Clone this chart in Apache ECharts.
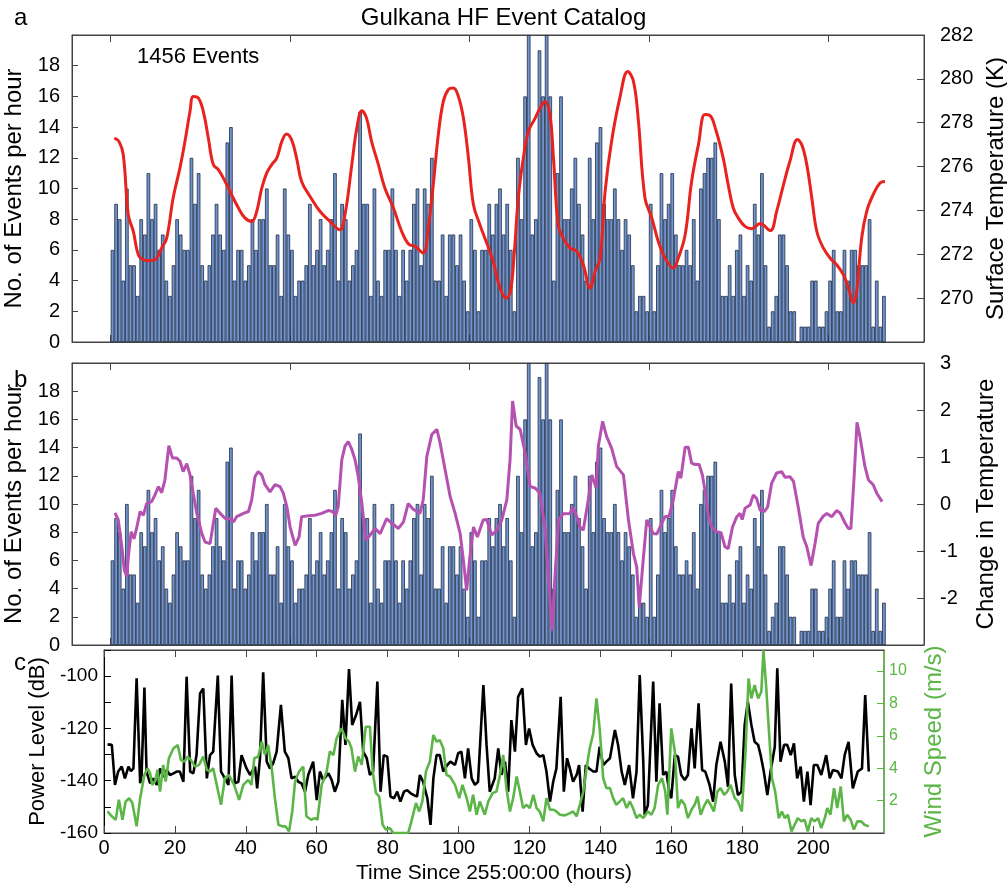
<!DOCTYPE html>
<html>
<head>
<meta charset="utf-8">
<title>Gulkana HF Event Catalog</title>
<script src="https://cdn.jsdelivr.net/npm/echarts@6/dist/echarts.min.js"></script>
<style>
html, body { margin: 0; padding: 0; background: #fff; }
#main { width: 1007px; height: 888px; }
</style>
</head>
<body>
<div id="main"></div>
<script>
// events per hour, one value per hourly bin (shared by panels a and b)
var eventCounts = [
    6, 9, 8, 4, 10, 5, 5, 3, 8, 7, 11, 8, 9, 6, 7, 4, 3, 5, 8, 7,
    6, 6, 12, 9, 11, 5, 4, 5, 7, 9, 7, 6, 13, 14, 4, 6, 6, 4, 5, 8,
    6, 8, 8, 10, 5, 5, 7, 3, 10, 7, 6, 3, 4, 4, 5, 9, 5, 6, 8, 5,
    6, 8, 11, 4, 9, 8, 4, 5, 6, 15, 9, 9, 3, 10, 4, 3, 6, 6, 10, 6,
    3, 6, 4, 6, 9, 10, 5, 10, 9, 12, 4, 4, 7, 3, 7, 7, 5, 7, 4, 2,
    8, 6, 2, 6, 6, 9, 7, 9, 10, 7, 9, 6, 2, 12, 8, 16, 20, 7, 8, 19,
    16, 20, 16, 4, 11, 16, 8, 8, 10, 12, 9, 7, 4, 12, 8, 13, 14, 9, 8, 8,
    10, 8, 6, 8, 7, 5, 2, 3, 3, 2, 9, 2, 5, 11, 8, 9, 11, 7, 5, 5,
    6, 5, 8, 4, 10, 11, 12, 12, 13, 8, 3, 3, 5, 3, 6, 7, 3, 5, 4, 9,
    7, 11, 5, 1, 2, 3, 7, 7, 5, 2, 2, 0, 1, 1, 1, 4, 4, 1, 1, 2,
    4, 6, 2, 2, 6, 4, 6, 6, 5, 5, 5, 8, 1, 4, 1, 3
];

// surface temperature (K), hours counted from the first bin
var tempHour = [
    1.0, 2.3, 3.5, 4.9, 6.3, 7.7, 9.1, 10.5, 12.3, 14.2, 15.6, 17.4, 19.3, 20.7, 22.1, 23.0,
    24.4, 25.8, 27.2, 28.6, 30.0, 31.9, 33.7, 35.6, 37.4, 39.3, 40.7, 42.1, 43.5, 44.9, 46.3,
    47.7, 49.0, 50.4, 51.8, 53.2, 55.5, 58.3, 61.1, 63.9, 65.3, 67.2, 68.6, 70.0, 71.3, 72.7,
    74.6, 76.4, 78.8, 81.1, 83.0, 84.8, 87.1, 88.5, 89.9, 91.3, 92.7, 94.1, 95.5, 96.9, 98.3,
    99.7, 101.1, 102.9, 104.8, 106.6, 108.5, 110.2, 111.4, 112.4, 113.6, 115.0, 116.4, 118.3,
    119.7, 121.0, 122.4, 123.4, 124.7, 126.1, 128.0, 129.9, 131.7, 133.6, 135.0, 136.4, 137.8,
    139.6, 141.9, 144.1, 145.7, 147.0, 148.9, 150.8, 152.6, 154.5, 156.8, 158.2, 160.1, 161.9,
    163.8, 165.6, 167.0, 168.6, 170.7, 172.1, 173.5, 174.9, 176.8, 178.7, 181.0, 183.8, 185.6,
    187.5, 189.3, 191.4, 192.6, 194.0, 195.4, 196.8, 198.6, 200.5, 202.3, 204.2, 205.6, 207.0,
    207.9, 209.3, 210.7, 212.5, 214.4, 215.8
];
var tempK = [
    277.3, 277.15, 276.54, 273.81, 273.04, 271.98, 271.75, 271.71, 271.75, 272.29, 272.74, 274.57,
    275.94, 277.15, 278.52, 279.2, 279.13, 278.52, 277.3, 276.09, 275.86, 275.32, 274.72, 274.11,
    273.66, 273.5, 273.96, 275.02, 275.71, 276.09, 276.39, 277.15, 277.49, 277.23, 276.39, 275.32,
    274.65, 273.96, 273.5, 273.12, 273.81, 276.09, 277.76, 278.55, 278.21, 277.15, 276.09, 275.02,
    274.11, 273.04, 272.47, 272.36, 272.06, 273.2, 275.17, 277.45, 278.97, 279.51, 279.58, 279.2,
    278.21, 276.39, 274.26, 273.35, 272.51, 271.68, 270.46, 270.0, 270.3, 271.9, 274.57, 276.39,
    277.6, 278.21, 278.67, 278.97, 278.37, 276.39, 273.35, 272.74, 272.29, 272.13, 271.53, 270.46,
    271.22, 271.83, 274.87, 277.15, 279.13, 280.34, 279.88, 278.21, 274.57, 273.66, 272.59, 271.83,
    271.37, 271.83, 272.89, 275.32, 277.0, 278.37, 278.33, 277.7, 276.39, 275.17, 274.11, 273.66,
    273.27, 273.17, 273.4, 273.08, 273.96, 275.17, 276.24, 277.23, 277.0, 276.09, 274.57, 273.04,
    272.29, 271.83, 271.53, 271.07, 270.46, 269.78, 270.31, 272.74, 273.96, 274.72, 275.25, 275.32
];

// change in temperature
var dTempHour = [
    1.2, 2.1, 3.1, 3.8, 4.5, 4.9, 5.7, 6.5, 7.2, 8.2, 9.1, 10.0, 11.4, 12.3, 13.3, 14.2, 15.1,
    16.2, 17.2, 18.4, 19.3, 20.2, 21.2, 22.1, 23.0, 24.0, 25.4, 26.3, 27.7, 28.6, 29.3, 30.5,
    31.9, 33.2, 34.2, 35.1, 37.0, 38.4, 39.3, 40.2, 41.1, 42.1, 43.0, 44.4, 45.8, 47.2, 48.1,
    49.1, 50.0, 51.4, 52.5, 53.2, 55.1, 56.9, 58.8, 60.6, 61.8, 62.7, 63.4, 64.4, 65.3, 66.2,
    67.2, 68.1, 69.0, 70.0, 71.1, 72.3, 73.7, 75.1, 76.9, 78.3, 80.2, 81.6, 82.9, 84.3, 86.2,
    87.1, 88.1, 89.5, 90.9, 91.8, 93.2, 94.6, 96.0, 97.4, 98.3, 99.2, 100.1, 101.1, 102.2,
    103.8, 104.8, 106.2, 107.6, 109.0, 110.4, 111.3, 112.0, 113.0, 114.1, 115.5, 116.9, 118.3,
    119.6, 121.0, 122.0, 123.0, 123.8, 124.8, 126.1, 128.0, 128.9, 129.9, 130.8, 131.7, 133.1,
    134.1, 135.3, 135.9, 137.1, 138.2, 139.6, 141.0, 142.9, 144.3, 145.7, 146.6, 147.3, 148.4,
    149.4, 151.2, 152.2, 153.1, 154.5, 155.6, 156.8, 158.2, 158.9, 160.1, 161.0, 161.9, 162.9,
    164.0, 164.9, 165.6, 166.6, 167.5, 168.9, 170.1, 171.2, 172.1, 173.3, 174.5, 175.4, 176.0,
    176.8, 178.2, 179.1, 180.0, 181.0, 182.2, 183.1, 184.2, 185.6, 187.0, 187.9, 189.3, 190.3,
    191.6, 193.0, 194.0, 195.2, 196.3, 197.2, 198.6, 199.6, 201.0, 202.3, 203.3, 204.7, 205.6,
    206.3, 207.2, 208.0, 208.8, 210.2, 211.2, 212.5, 213.5, 215.0
];
var dTemp = [
    -0.19, -0.34, -0.91, -1.41, -1.54, -1.13, -0.59, -0.74, -0.52, -0.16, -0.24, 0.01, 0.05, 0.19,
    0.37, 0.24, 0.51, 1.24, 0.98, 0.98, 0.91, 0.69, 0.86, 0.62, 0.23, -0.2, -0.63, -0.81, -0.84,
    -0.41, -0.09, -0.2, -0.31, -0.31, -0.38, -0.27, -0.2, -0.16, 0.09, 0.58, 0.69, 0.62, 0.41,
    0.26, 0.41, 0.37, 0.23, -0.06, -0.49, -0.88, -0.7, -0.27, -0.25, -0.24, -0.2, -0.14, -0.16,
    -0.24, -0.06, 0.94, 1.23, 1.33, 1.16, 0.94, 0.58, 0.01, -0.77, -0.66, -0.52, -0.63, -0.31,
    -0.41, -0.52, -0.38, 0.01, -0.11, -0.2, 0.09, 1.01, 1.48, 1.59, 1.3, 0.73, 0.16, -0.2, -0.63,
    -1.2, -1.84, -1.13, -0.49, -0.7, -0.34, -0.33, -0.66, -0.56, -0.34, 0.09, 0.94, 2.19, 1.66,
    1.59, 1.09, 0.37, 0.34, 0.23, -0.49, -1.56, -2.7, -1.56, -0.34, -0.21, -0.2, -0.07, -0.27,
    -0.49, -0.56, 0.09, 0.62, 0.34, 1.23, 1.76, 1.44, 1.19, 0.8, 0.62, -0.34, -1.06, -1.34, -2.2,
    -1.2, -0.34, -0.63, -0.64, -0.49, -0.27, -0.26, 0.09, 0.69, 0.55, 1.21, 1.21, 0.87, 0.84,
    0.84, 0.62, 0.3, -0.27, -0.49, -0.59, -0.61, -0.91, -0.95, -0.49, -0.27, -0.2, -0.33, -0.09,
    -0.02, 0.19, 0.12, -0.13, -0.16, -0.06, 0.44, 0.66, 0.69, 0.57, 0.58, 0.48, -0.06, -0.7,
    -0.91, -1.31, -0.84, -0.41, -0.26, -0.2, -0.27, -0.14, -0.19, -0.41, -0.52, -0.52, 0.58,
    1.74, 1.44, 0.8, 0.51, 0.41, 0.23, 0.05
];

// power level (dB), time since 255:00:00 in hours
var powerTime = [
    1.0, 2.2, 3.1, 4.0, 5.0, 5.9, 6.9, 7.6, 8.3, 9.2, 10.2, 10.6, 11.4, 12.0, 13.0, 13.9, 14.9,
    15.8, 16.7, 17.7, 18.6, 19.6, 20.5, 21.4, 22.4, 23.3, 24.3, 25.2, 26.1, 27.1, 28.0, 29.0,
    29.9, 30.8, 32.1, 33.0, 34.1, 35.1, 36.0, 36.9, 37.9, 38.8, 40.2, 41.2, 42.6, 43.2, 44.0,
    44.9, 45.9, 46.8, 47.7, 48.7, 49.9, 51.0, 52.0, 52.9, 53.9, 54.8, 55.7, 56.7, 57.6, 59.0,
    60.0, 60.9, 61.8, 63.3, 64.2, 65.1, 66.1, 67.2, 68.1, 69.1, 70.0, 71.1, 72.2, 73.1, 74.1,
    75.0, 75.9, 77.1, 78.0, 78.9, 79.9, 80.8, 81.8, 82.7, 83.6, 84.6, 85.5, 86.5, 87.4, 88.3,
    89.1, 90.0, 91.2, 92.1, 92.9, 93.8, 94.7, 95.7, 96.8, 97.7, 99.0, 99.9, 100.8, 101.8, 102.7,
    103.7, 104.6, 105.5, 107.0, 107.9, 108.8, 110.2, 111.2, 112.1, 113.1, 114.0, 114.9, 115.9,
    116.8, 118.0, 119.0, 119.9, 120.9, 122.0, 122.9, 123.9, 124.8, 125.8, 126.7, 127.6, 128.8,
    129.7, 130.6, 131.4, 132.3, 133.3, 134.0, 135.0, 135.9, 136.8, 138.0, 138.9, 139.8, 140.8,
    141.7, 142.7, 144.1, 145.0, 146.0, 146.9, 148.1, 149.2, 150.2, 151.1, 152.1, 152.5, 153.4,
    154.9, 155.8, 156.7, 157.7, 158.6, 159.5, 160.0, 161.0, 161.9, 162.8, 163.8, 164.7, 165.7,
    166.6, 167.7, 168.7, 169.6, 170.8, 171.8, 172.7, 173.9, 175.1, 176.0, 176.9, 177.9, 178.8,
    179.8, 180.7, 181.6, 182.6, 183.5, 184.5, 185.2, 186.1, 187.1, 188.0, 189.2, 189.9, 190.8,
    191.8, 192.7, 193.7, 194.6, 195.5, 196.5, 197.4, 198.4, 199.3, 200.2, 201.2, 202.3, 203.7,
    204.7, 205.6, 207.0, 208.0, 208.9, 210.0, 211.2, 212.6, 213.8, 214.7, 215.7
];
var powerDb = [
    -126.1, -126.3, -141.6, -136.5, -134.6, -139.1, -134.6, -136.3, -135.3, -100.8, -141.0,
    -137.8, -104.4, -136.5, -141.0, -139.1, -141.6, -135.3, -138.5, -135.9, -137.8, -137.2,
    -136.5, -136.5, -140.4, -100.2, -136.5, -137.2, -130.2, -106.6, -104.7, -139.1, -130.2,
    -128.9, -99.8, -136.5, -139.1, -141.6, -99.8, -141.0, -140.4, -130.2, -135.3, -137.8,
    -134.6, -142.9, -131.4, -98.5, -132.7, -135.3, -133.4, -128.9, -111.0, -128.9, -131.4,
    -139.1, -138.5, -140.4, -141.0, -144.2, -137.8, -132.7, -147.4, -136.5, -139.7, -137.2,
    -139.7, -144.2, -140.4, -109.1, -126.3, -97.3, -118.7, -114.9, -109.8, -128.9, -131.4,
    -137.8, -136.5, -102.1, -144.2, -130.2, -130.8, -146.1, -146.7, -144.2, -148.0, -144.2,
    -143.6, -144.8, -145.5, -146.1, -137.8, -140.4, -146.7, -156.9, -139.1, -130.2, -130.2,
    -136.5, -134.0, -132.7, -134.0, -129.5, -128.9, -139.1, -127.6, -139.1, -141.6, -140.4,
    -103.4, -126.3, -144.2, -139.1, -127.6, -137.8, -132.7, -144.2, -116.8, -128.9, -107.9,
    -104.7, -126.3, -120.0, -126.3, -129.5, -130.8, -130.2, -136.5, -148.0, -140.4, -135.3,
    -107.9, -144.2, -131.4, -135.3, -140.4, -137.8, -134.0, -151.8, -134.0, -135.3, -136.5,
    -136.5, -127.0, -134.0, -132.7, -131.4, -120.6, -126.3, -136.5, -141.6, -134.0, -146.7,
    -136.5, -99.6, -132.7, -153.1, -149.3, -102.1, -140.4, -110.4, -137.8, -136.5, -144.8,
    -146.7, -130.2, -130.8, -137.8, -139.7, -137.8, -120.0, -135.3, -110.4, -135.9, -136.5,
    -141.6, -148.0, -134.0, -125.1, -132.7, -142.3, -102.8, -137.8, -145.5, -144.2, -118.7,
    -109.8, -118.7, -125.1, -126.3, -130.2, -136.5, -145.5, -136.5, -127.0, -97.0, -132.7,
    -126.3, -126.3, -130.2, -125.7, -139.1, -134.6, -148.0, -136.5, -149.3, -134.0, -134.0,
    -137.8, -130.2, -139.1, -135.9, -136.5, -139.1, -130.2, -125.1, -142.9, -136.5, -135.3,
    -107.2, -136.5
];

// wind speed (m/s)
var windTime = [
    1.0, 2.2, 3.3, 4.2, 5.2, 6.1, 7.1, 8.0, 9.2, 10.2, 11.4, 12.3, 13.0, 13.6, 14.4, 15.1, 15.8,
    16.7, 17.4, 18.3, 19.6, 20.8, 21.7, 22.7, 23.6, 24.5, 25.7, 26.8, 28.0, 29.0, 29.9, 30.8,
    31.8, 33.0, 34.1, 35.2, 36.7, 38.1, 39.3, 40.7, 41.6, 42.4, 43.5, 44.5, 45.4, 46.3, 47.3,
    48.2, 49.2, 50.3, 51.2, 52.2, 53.1, 53.9, 55.0, 56.2, 57.1, 58.4, 59.5, 60.2, 61.4, 62.8,
    63.7, 64.7, 65.6, 67.0, 68.1, 69.1, 69.8, 70.8, 71.7, 72.7, 73.8, 75.0, 75.8, 76.7, 77.6,
    78.6, 79.5, 80.6, 81.6, 83.0, 84.4, 85.8, 86.7, 88.0, 88.9, 89.8, 90.8, 91.9, 92.9, 93.8,
    94.7, 95.7, 96.6, 97.6, 99.0, 100.2, 101.1, 102.3, 103.2, 104.1, 105.1, 106.0, 107.4, 108.4,
    109.6, 110.7, 111.7, 112.6, 113.5, 114.5, 115.4, 116.4, 117.3, 118.2, 119.2, 120.1, 121.1,
    122.0, 122.9, 123.9, 124.8, 125.8, 126.7, 127.6, 128.6, 130.0, 131.4, 132.3, 133.3, 134.2,
    135.2, 136.1, 137.0, 138.0, 138.9, 139.8, 140.8, 141.7, 142.7, 143.6, 144.5, 145.5, 146.4,
    147.4, 148.3, 149.2, 150.2, 151.1, 152.1, 152.5, 153.4, 154.4, 155.3, 156.3, 157.4, 158.3,
    158.9, 160.0, 161.0, 161.9, 162.8, 163.8, 164.7, 165.7, 166.6, 167.4, 168.3, 169.2, 170.2,
    171.1, 172.0, 173.0, 173.9, 174.9, 175.8, 176.7, 177.9, 178.8, 179.9, 180.9, 181.8, 182.6,
    183.5, 184.5, 185.4, 186.0, 186.8, 187.5, 188.4, 189.3, 190.3, 191.2, 192.0, 192.9, 193.9,
    194.8, 195.7, 196.7, 197.6, 198.5, 199.5, 200.4, 201.4, 202.3, 203.3, 204.0, 204.9, 205.9,
    206.8, 207.8, 208.7, 209.6, 210.6, 211.5, 212.5, 213.6, 214.5, 215.7
];
var windSpeed = [
    1.33, 1.03, 0.82, 2.05, 0.82, 1.95, 2.15, 1.85, 0.41, 2.15, 3.59, 4.0, 3.69, 2.97, 3.18, 3.9,
    2.56, 4.21, 3.18, 4.62, 5.23, 5.44, 4.51, 4.41, 4.72, 4.51, 4.1, 4.21, 4.72, 3.9, 3.79, 4.0,
    2.97, 1.74, 3.38, 3.59, 2.97, 2.05, 2.97, 3.28, 2.97, 4.62, 4.72, 5.64, 4.82, 5.44, 4.0, 2.15,
    0.51, 0.41, 0.41, 0.1, 1.33, 3.18, 3.79, 4.1, 1.03, 0.82, 0.92, 0.82, 2.97, 3.79, 5.03, 4.82,
    5.85, 6.46, 5.85, 5.64, 5.23, 3.79, 4.72, 4.21, 6.56, 6.56, 3.79, 2.46, 2.26, 0.51, 0.21,
    0.31, 0.0, 0.0, 0.0, 0.0, 0.72, 1.85, 1.33, 1.95, 3.79, 4.41, 6.05, 5.64, 5.74, 5.23, 3.59,
    3.49, 2.97, 2.15, 2.97, 2.15, 1.33, 2.36, 1.13, 1.95, 1.13, 1.95, 2.46, 2.56, 3.59, 4.82,
    2.77, 1.33, 2.15, 3.49, 2.56, 1.54, 1.74, 1.54, 2.36, 1.54, 1.33, 0.72, 2.15, 1.44, 1.44,
    1.33, 1.13, 1.09, 1.23, 1.33, 1.03, 1.74, 2.56, 4.0, 5.23, 6.15, 8.31, 6.46, 3.38, 2.77,
    2.77, 2.15, 1.74, 1.95, 2.15, 1.54, 1.95, 1.54, 0.92, 1.13, 0.92, 0.82, 1.33, 1.13, 1.54,
    2.97, 3.38, 2.56, 1.13, 6.46, 5.03, 1.54, 2.05, 1.74, 0.92, 1.44, 1.74, 2.26, 1.13, 1.64,
    2.05, 1.74, 1.33, 2.56, 2.77, 2.36, 2.56, 2.97, 2.15, 1.95, 1.33, 4.82, 9.54, 8.31, 9.13,
    8.31, 8.72, 11.28, 8.92, 6.46, 3.38, 2.56, 0.92, 1.33, 0.92, 1.13, 0.1, 0.51, 0.92, 0.72,
    0.82, 0.1, 0.92, 0.72, 0.92, 0.31, 0.92, 1.54, 1.13, 2.77, 1.54, 2.87, 0.72, 1.13, 0.82,
    0.21, 0.72, 0.72, 0.51, 0.41
];

// tick labels
var hourTicks = [0, 50, 100, 150, 200];
var timeTicks = [0, 20, 40, 60, 80, 100, 120, 140, 160, 180, 200];
var powerTicks = [-160, -140, -120, -100];
var windTicks = [2, 4, 6, 8, 10];

var FONT = 'Liberation Sans, Arial, sans-serif';
var GREEN = '#5cb547';
var EDGE = '#444';

// panels a/b: bins are one hour wide, first bin starts at hour 0
var binMin = -10.79;
var binMax = 226.67;

function pairs(xs, ys) {
    var out = [];
    for (var i = 0; i < xs.length; i++) {
        out.push([xs[i], ys[i]]);
    }
    return out;
}

var barData = eventCounts.map(function (v, i) { return [i + 0.5, v]; });

function binAxis(grid, pos) {
    return {
        type: 'value', gridIndex: grid, position: pos,
        min: binMin, max: binMax,
        axisLine: { show: true, onZero: false, lineStyle: { color: EDGE } },
        axisTick: { show: true, inside: true, length: 7, customValues: hourTicks, lineStyle: { color: EDGE } },
        axisLabel: { show: false },
        splitLine: { show: false }
    };
}

function countAxis(grid) {
    return {
        type: 'value', gridIndex: grid, position: 'left',
        min: 0, max: 20, interval: 2,
        name: 'No. of Events per hour', nameLocation: 'middle', nameGap: 36, nameRotate: 90,
        nameTextStyle: { fontSize: 24, color: '#000', fontFamily: FONT },
        axisLine: { show: true, onZero: false, lineStyle: { color: EDGE } },
        axisTick: { show: true, inside: true, length: 6, lineStyle: { color: EDGE } },
        axisLabel: { fontSize: 20, color: '#000', fontFamily: FONT, margin: 12, showMaxLabel: false },
        splitLine: { show: false }
    };
}

var barStyle = { color: '#7196cf', borderColor: '#1f2b45', borderWidth: 0.8 };

var option = {
    animation: false,
    backgroundColor: '#fff',
    grid: [
        { left: 72, top: 35, width: 852, height: 307, show: true, borderColor: EDGE, borderWidth: 1, outerBoundsMode: 'none' },
        { left: 72, top: 363, width: 852, height: 282, show: true, borderColor: EDGE, borderWidth: 1, outerBoundsMode: 'none' },
        { left: 104, top: 650, width: 780, height: 183, show: true, borderColor: EDGE, borderWidth: 1, outerBoundsMode: 'none' }
    ],
    graphic: [
        { type: 'text', left: 'center', top: 6, style: { text: 'Gulkana HF Event Catalog', fontSize: 24, fontFamily: FONT, fill: '#000' } },
        { type: 'text', left: 14, top: 6, style: { text: 'a', fontSize: 24, fontFamily: FONT, fill: '#000' } },
        { type: 'text', left: 14, top: 368, style: { text: 'b', fontSize: 24, fontFamily: FONT, fill: '#000' } },
        { type: 'text', left: 14, top: 651, style: { text: 'c', fontSize: 24, fontFamily: FONT, fill: '#000' } },
        { type: 'text', left: 137, top: 46, style: { text: '1456 Events', fontSize: 22, fontFamily: FONT, fill: '#000' } }
    ],
    xAxis: [
        binAxis(0, 'bottom'),
        binAxis(0, 'top'),
        binAxis(1, 'bottom'),
        binAxis(1, 'top'),
        {
            type: 'value', gridIndex: 2, position: 'bottom',
            min: 0, max: 220,
            name: 'Time Since 255:00:00 (hours)', nameLocation: 'middle', nameGap: 30,
            nameTextStyle: { fontSize: 21, color: '#000', fontFamily: FONT },
            axisLine: { show: true, onZero: false, lineStyle: { color: EDGE } },
            axisTick: { show: true, inside: true, length: 7, customValues: timeTicks, lineStyle: { color: EDGE } },
            axisLabel: { fontSize: 20, color: '#000', fontFamily: FONT, margin: 5, customValues: timeTicks },
            splitLine: { show: false }
        },
        {
            type: 'value', gridIndex: 2, position: 'top',
            min: 0, max: 220,
            axisLine: { show: true, onZero: false, lineStyle: { color: EDGE } },
            axisTick: { show: true, inside: true, length: 7, customValues: timeTicks, lineStyle: { color: EDGE } },
            axisLabel: { show: false },
            splitLine: { show: false }
        }
    ],
    yAxis: [
        countAxis(0),
        {
            type: 'value', gridIndex: 0, position: 'right',
            min: 268, max: 282, interval: 2,
            name: 'Surface Temperature (K)', nameLocation: 'middle', nameGap: 48, nameRotate: 90,
            nameTextStyle: { fontSize: 24, color: '#000', fontFamily: FONT },
            axisLine: { show: true, onZero: false, lineStyle: { color: EDGE } },
            axisTick: { show: true, inside: true, length: 7, lineStyle: { color: EDGE } },
            axisLabel: { fontSize: 20, color: '#000', fontFamily: FONT, margin: 16, showMinLabel: false },
            splitLine: { show: false }
        },
        countAxis(1),
        {
            type: 'value', gridIndex: 1, position: 'right',
            min: -3, max: 3, interval: 1,
            name: 'Change in Temperature', nameLocation: 'middle', nameGap: 50, nameRotate: 90,
            nameTextStyle: { fontSize: 24, color: '#000', fontFamily: FONT },
            axisLine: { show: true, onZero: false, lineStyle: { color: EDGE } },
            axisTick: { show: true, inside: true, length: 7, lineStyle: { color: EDGE } },
            axisLabel: { fontSize: 20, color: '#000', fontFamily: FONT, margin: 16, showMinLabel: false },
            splitLine: { show: false }
        },
        {
            type: 'value', gridIndex: 2, position: 'left',
            min: -160, max: -90, interval: 10,
            name: 'Power Level (dB)', nameLocation: 'middle', nameGap: 44, nameRotate: 90,
            nameTextStyle: { fontSize: 22, color: '#000', fontFamily: FONT },
            axisLine: { show: true, onZero: false, lineStyle: { color: '#000' } },
            axisTick: { show: true, inside: true, length: 7, lineStyle: { color: '#000' } },
            axisLabel: { fontSize: 19, color: '#000', fontFamily: FONT, margin: 6, customValues: powerTicks },
            splitLine: { show: false }
        },
        {
            type: 'value', gridIndex: 2, position: 'right',
            min: 0, max: 11.3,
            name: 'Wind Speed (m/s)', nameLocation: 'middle', nameGap: 38, nameRotate: 90,
            nameTextStyle: { fontSize: 24, color: GREEN, fontFamily: FONT },
            axisLine: { show: true, onZero: false, lineStyle: { color: GREEN, width: 1.5 } },
            axisTick: { show: true, inside: true, length: 7, customValues: windTicks, lineStyle: { color: GREEN } },
            axisLabel: { fontSize: 16, color: GREEN, fontFamily: FONT, margin: 5, customValues: windTicks },
            splitLine: { show: false }
        }
    ],
    series: [
        {
            name: 'events a', type: 'bar', xAxisIndex: 0, yAxisIndex: 0,
            data: barData, barWidth: 3.59, itemStyle: barStyle
        },
        {
            name: 'temperature', type: 'line', xAxisIndex: 0, yAxisIndex: 1,
            data: pairs(tempHour, tempK), smooth: 0.4, symbol: 'none',
            lineStyle: { color: '#e8231f', width: 3 }, z: 5
        },
        {
            name: 'events b', type: 'bar', xAxisIndex: 2, yAxisIndex: 2,
            data: barData, barWidth: 3.59, itemStyle: barStyle
        },
        {
            name: 'dT', type: 'line', xAxisIndex: 2, yAxisIndex: 3,
            data: pairs(dTempHour, dTemp), symbol: 'none',
            lineStyle: { color: '#b552b1', width: 3 }, z: 5
        },
        {
            name: 'power', type: 'line', xAxisIndex: 4, yAxisIndex: 4,
            data: pairs(powerTime, powerDb), symbol: 'none',
            lineStyle: { color: '#000', width: 2.6 }, z: 4
        },
        {
            name: 'wind', type: 'line', xAxisIndex: 4, yAxisIndex: 5,
            data: pairs(windTime, windSpeed), symbol: 'none',
            lineStyle: { color: GREEN, width: 2.6 }, z: 5
        }
    ]
};

var myChart = echarts.init(document.getElementById('main'));
myChart.setOption(option);
</script>
</body>
</html>
